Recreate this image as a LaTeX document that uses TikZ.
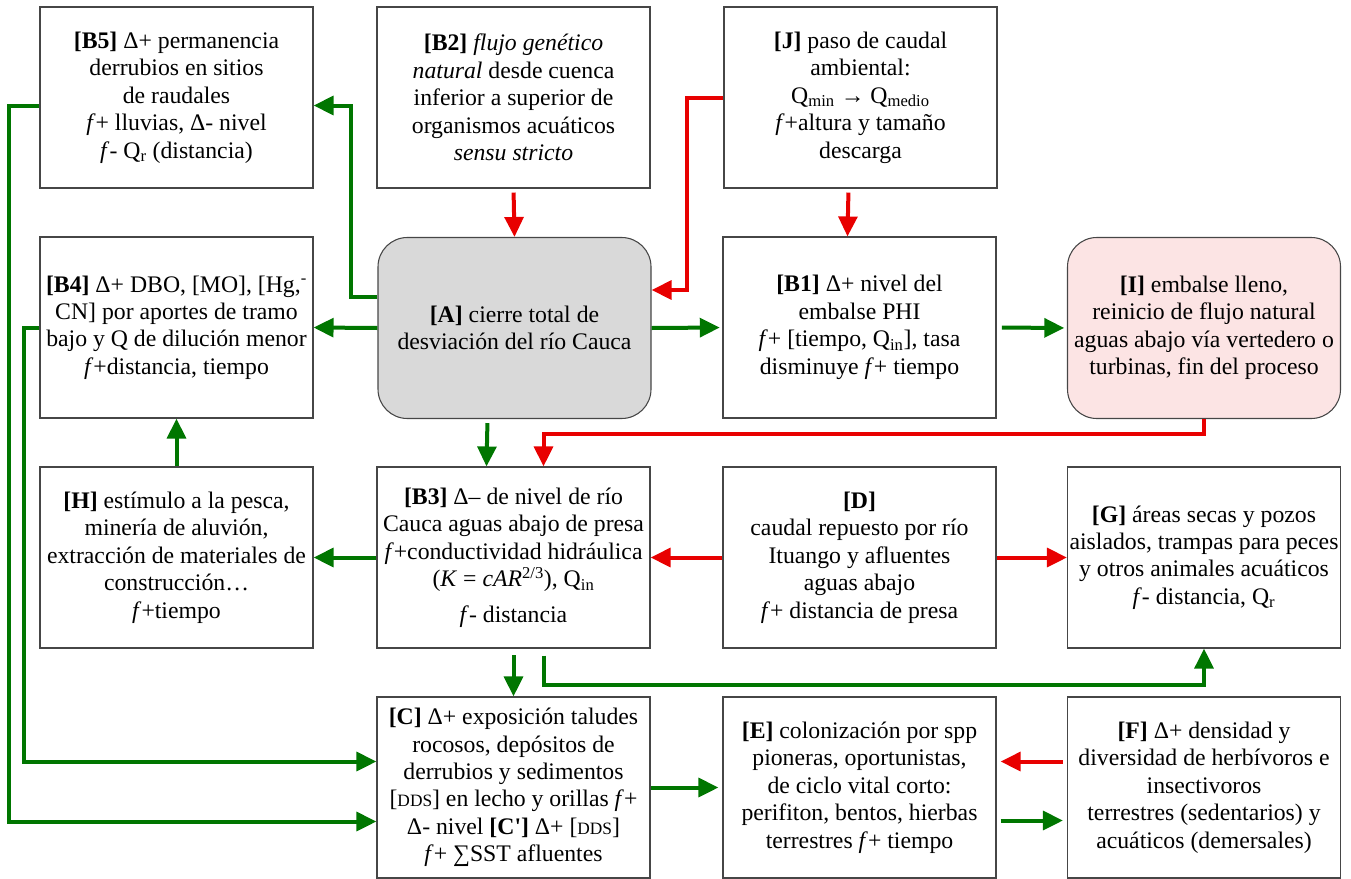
\documentclass[tikz,border=0pt]{standalone}
\usepackage{fontspec}
\setmainfont{Liberation Serif}
\usetikzlibrary{arrows.meta,calc}
\definecolor{verde}{RGB}{0,118,0}
\definecolor{rojo}{RGB}{232,0,0}
\definecolor{gris}{RGB}{217,217,217}
\definecolor{rosa}{RGB}{252,228,228}
\definecolor{borde}{RGB}{70,70,70}
\tikzset{
  box/.style={draw=borde,line width=0.8pt,minimum width=204.75pt,minimum height=135.75pt,
    align=center,inner sep=1pt,font=\fontsize{17.8}{20.6}\selectfont},
  roundbox/.style={box,rounded corners=22pt},
  garrow/.style={draw=verde,line width=3pt,-{Triangle[length=15pt,width=14pt]}},
  rarrow/.style={draw=rojo,line width=3pt,-{Triangle[length=15pt,width=14pt]}}
}
\newcommand{\ff}{\textit{f}}
\newcommand{\dds}{[{\fontsize{13}{13}\selectfont DDS}]}
\begin{document}
\begin{tikzpicture}[x=0.75pt,y=-0.75pt]
\useasboundingbox (0,0) rectangle (1351,878);
\node[box] (B5) at (176.5,97.5) {\textbf{[B5]} Δ+ permanencia\\ derrubios en sitios\\ de raudales\\ \ff+ lluvias, Δ- nivel\\ \ff- Q\textsubscript{r} (distancia)};
\node[box] (B2) at (513.5,97.5) {\textbf{[B2]} \textit{flujo genético}\\ \textit{natural} desde cuenca\\ inferior a superior de\\ organismos acuáticos\\ \textit{sensu stricto}};
\node[box] (J) at (860.5,97.5) {\textbf{[J]} paso de caudal\\ ambiental:\\ Q\textsubscript{min} → Q\textsubscript{medio}\\ \ff+altura y tamaño\\ descarga};
\node[box] (B4) at (176.5,327.5) {\textbf{[B4]} Δ+ DBO, [MO], [Hg,\textsuperscript{-}\\ CN] por aportes de tramo\\ bajo y Q de dilución menor\\ \ff+distancia, tiempo};
\node[roundbox,fill=gris] (A) at (514.5,328) {\textbf{[A]} cierre total de\\ desviación del río Cauca};
\node[box] (B1) at (859.5,327.5) {\textbf{[B1]} Δ+ nivel del\\ embalse PHI\\ \ff+ [tiempo, Q\textsubscript{in}], tasa\\ disminuye \ff+ tiempo};
\node[roundbox,fill=rosa] (I) at (1204,328) {\textbf{[I]} embalse lleno,\\ reinicio de flujo natural\\ aguas abajo vía vertedero o\\ turbinas, fin del proceso};
\node[box] (H) at (176.5,557.5) {\textbf{[H]} estímulo a la pesca,\\ minería de aluvión,\\ extracción de materiales de\\ construcción…\\ \ff+tiempo};
\node[box] (B3) at (513.5,557.5) {\textbf{[B3]} Δ– de nivel de río\\ Cauca aguas abajo de presa\\ \ff+conductividad hidráulica\\ (\textit{K} = \textit{cAR}\textsuperscript{2/3}), Q\textsubscript{in}\\[6pt] \ff- distancia};
\node[box] (D) at (859.5,557.5) {\textbf{[D]}\\ caudal repuesto por río\\ Ituango y afluentes\\ aguas abajo\\ \ff+ distancia de presa};
\node[box] (G) at (1204,557.5) {\textbf{[G]} áreas secas y pozos\\ aislados, trampas para peces\\ y otros animales acuáticos\\ \ff- distancia, Q\textsubscript{r}};
\node[box] (C) at (513.5,787.5) {\textbf{[C]} Δ+ exposición taludes\\ rocosos, depósitos de\\ derrubios y sedimentos\\ \dds{} en lecho y orillas \ff+\\ Δ- nivel \textbf{[C\textquotesingle]} Δ+ \dds\\ \ff+ ∑SST afluentes};
\node[box] (E) at (859.5,787.5) {\textbf{[E]} colonización por spp\\ pioneras, oportunistas,\\ de ciclo vital corto:\\ perifiton, bentos, hierbas\\ terrestres \ff+ tiempo};
\node[box] (F) at (1204,787.5) {\textbf{[F]} Δ+ densidad y\\ diversidad de herbívoros e\\ insectivoros\\ terrestres (sedentarios) y\\ acuáticos (demersales)};
% red
\draw[rarrow,shorten <=3pt] (B2.south) -- (A.north);
\draw[rarrow,shorten <=3pt] ($(J.south)+(-12,0)$) -- ($(B1.north)+(-12,0)$);
\draw[rarrow] (J.west) -- ++(-36,0) |- ($(A.east)+(0,-38)$);
\draw[rarrow] (I.south) -- ++(0,15) -| ($(B3.north)+(30,0)$);
\draw[rarrow] (D.west) -- (B3.east);
\draw[rarrow] (D.east) -- (G.west);
\draw[rarrow,shorten <=3pt,shorten >=3pt] ($(F.west)+(0,-26)$) -- ($(E.east)+(0,-26)$);
% green
\draw[garrow] ($(A.west)+(0,-31)$) -- ++(-26,0) |- ($(B5.east)+(0,8)$);
\draw[garrow] (A.west) -- (B4.east);
\draw[garrow,shorten >=2pt] (A.east) -- (B1.west);
\draw[garrow,shorten <=4pt,shorten >=2pt] (B1.east) -- (I.west);
\draw[garrow,shorten <=3pt] ($(A.south)+(-27,0)$) -- ($(B3.north)+(-27,0)$);
\draw[garrow] (B3.west) -- (H.east);
\draw[garrow] (H.north) -- (B4.south);
\draw[garrow,shorten <=5pt] (B3.south) -- (C.north);
\draw[garrow] ($(B3.south)+(30,7)$) -- ++(0,29) -| (G.south);
\draw[garrow] ($(B5.west)+(0,8)$) -- ++(-30,0) |- ($(C.west)+(0,34)$);
\draw[garrow] (B4.west) -- ++(-15,0) |- ($(C.west)+(0,-26)$);
\draw[garrow,shorten >=3pt] (C.east) -- (E.west);
\draw[garrow,shorten <=3pt,shorten >=3pt] ($(E.east)+(0,33)$) -- ($(F.west)+(0,33)$);
\end{tikzpicture}
\end{document}
